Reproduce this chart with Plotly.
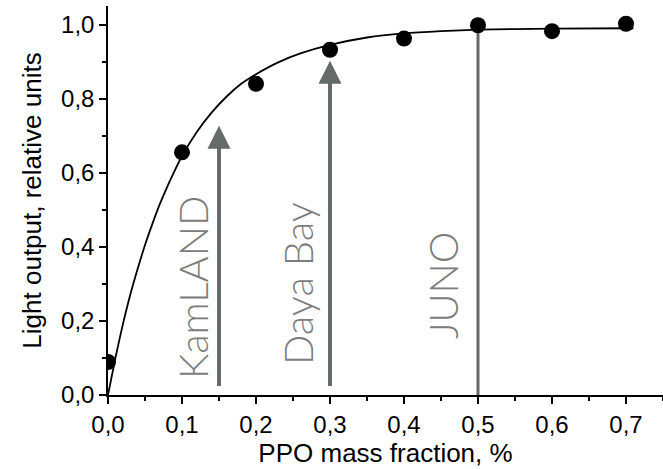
import plotly.graph_objects as go

# Measured points
ppo_frac = [0.0, 0.1, 0.2, 0.3, 0.4, 0.5, 0.6, 0.7]
light_out = [0.089, 0.655, 0.84, 0.932, 0.962, 0.998, 0.982, 1.002]

# Fit curve
fit_x = [0.0, 0.01, 0.02, 0.03, 0.04, 0.05, 0.06, 0.07, 0.08, 0.09, 0.10, 0.12,
         0.14, 0.16, 0.18, 0.20, 0.23, 0.26, 0.30, 0.35, 0.40, 0.45, 0.50, 0.60, 0.71]
fit_y = [0.0, 0.10, 0.19, 0.27, 0.34, 0.405, 0.462, 0.515, 0.562, 0.605, 0.645, 0.71,
         0.762, 0.805, 0.84, 0.866, 0.898, 0.922, 0.945, 0.965, 0.976, 0.982, 0.986, 0.989, 0.99]

# Experiments
exp_names = ["KamLAND", "Daya Bay", "JUNO"]
exp_ppo = [0.15, 0.30, 0.50]
exp_level = [0.727, 0.902, 0.99]
exp_base = [0.02, 0.02, 0.0]
exp_has_head = [True, True, False]
label_x = [0.115, 0.257, 0.452]
label_y = [0.289, 0.30, 0.298]

x_ticks = [0.0, 0.1, 0.2, 0.3, 0.4, 0.5, 0.6, 0.7]
y_ticks = [0.0, 0.2, 0.4, 0.6, 0.8, 1.0]

ARROW_COLOR = "#656a6a"
TEXT_COLOR = "#7c7c7c"

fig = go.Figure()

fig.add_trace(go.Scatter(
    x=fit_x, y=fit_y, mode="lines",
    line=dict(color="black", width=1.8, shape="spline", smoothing=0.6),
    showlegend=False, hoverinfo="skip",
))

annotations = []
for name, xp, lvl, base, head, lx, ly in zip(exp_names, exp_ppo, exp_level, exp_base,
                                              exp_has_head, label_x, label_y):
    if head:
        annotations.append(dict(
            x=xp, y=lvl, ax=xp, ay=base, xref="x", yref="y", axref="x", ayref="y",
            text="", showarrow=True, arrowhead=2, arrowsize=1.15, arrowwidth=4,
            arrowcolor=ARROW_COLOR,
        ))
    else:
        fig.add_trace(go.Scatter(
            x=[xp, xp], y=[base, lvl], mode="lines",
            line=dict(color=ARROW_COLOR, width=3),
            showlegend=False, hoverinfo="skip",
        ))
    annotations.append(dict(
        x=lx, y=ly, xref="x", yref="y", text=name, showarrow=False, textangle=-90,
        font=dict(family="Lato", size=40, color=TEXT_COLOR, weight=300),
        xanchor="center", yanchor="middle",
    ))

fig.add_trace(go.Scatter(
    x=ppo_frac, y=light_out, mode="markers",
    marker=dict(color="black", size=16),
    showlegend=False,
))

axis_common = dict(
    showline=True, linecolor="black", linewidth=1.5,
    ticks="outside", ticklen=7, tickwidth=1.5, tickcolor="black",
    showgrid=False, zeroline=False,
    tickfont=dict(family="Liberation Sans, Arial", size=24, color="black"),
    tickformat=".1f",
)

fig.update_layout(
    width=663, height=469,
    margin=dict(l=108, r=0, t=6, b=74),
    paper_bgcolor="white", plot_bgcolor="white",
    separators=", ",
    annotations=annotations,
    xaxis=dict(
        range=[0, 0.75], tickvals=x_ticks,
        minor=dict(dtick=0.05, ticks="outside", ticklen=4, tickwidth=1.5, tickcolor="black"),
        title=dict(text="PPO mass fraction, %",
                   font=dict(family="Liberation Sans, Arial", size=26, color="black"),
                   standoff=6),
        **axis_common,
    ),
    yaxis=dict(
        range=[0, 1.05], tickvals=y_ticks,
        minor=dict(dtick=0.1, ticks="outside", ticklen=4, tickwidth=1.5, tickcolor="black"),
        title=dict(text="Light output, relative units",
                   font=dict(family="Liberation Sans, Arial", size=26, color="black"),
                   standoff=12),
        **axis_common,
    ),
)

fig.write_html(
    "out.html",
    config={"displayModeBar": False},
    post_script="document.body.style.margin='0';document.body.style.overflow='hidden';",
)
